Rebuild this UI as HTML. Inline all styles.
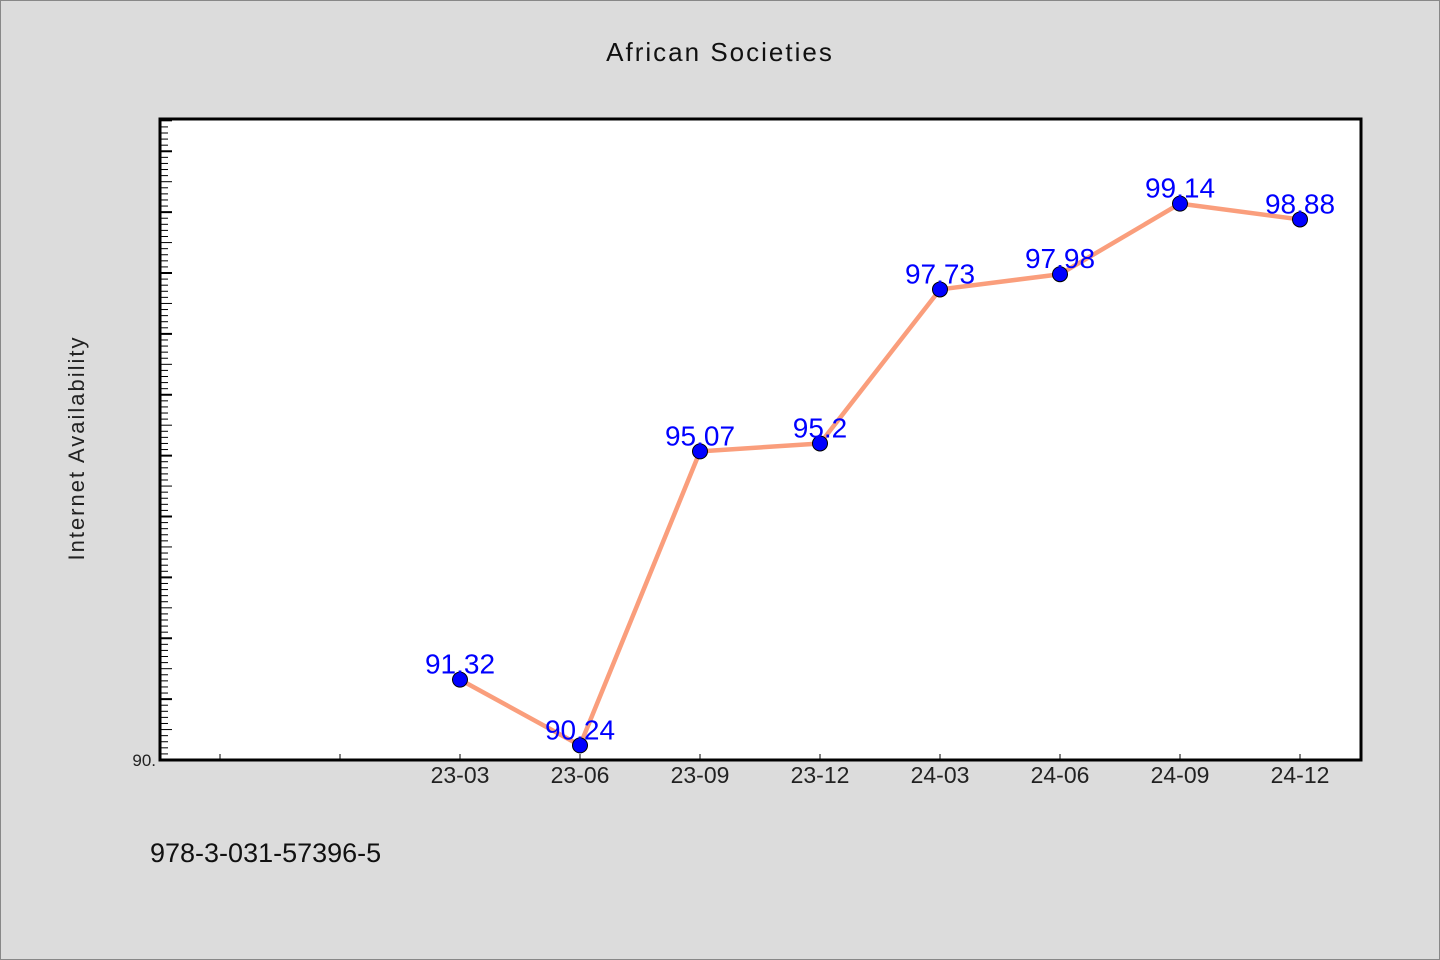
<!DOCTYPE html>
<html><head><meta charset="utf-8"><style>
body{margin:0;background:#dcdcdc;}
svg{display:block;font-family:"WenQuanYi Zen Hei","Liberation Sans",sans-serif;}
</style></head><body>
<svg id="chart" width="1440" height="960" viewBox="0 0 1440 960">
<rect x="0.5" y="0.5" width="1439" height="959" fill="#dcdcdc" stroke="#888"/>
<text x="720" y="61" text-anchor="middle" font-size="26" letter-spacing="2" fill="#111">African Societies</text>
<rect x="160" y="119" width="1201" height="641" fill="#fff"/>
<g id="axes"></g>
<g id="series"></g>
<rect x="160" y="119" width="1201" height="641" fill="none" stroke="#000" stroke-width="3"/>
<text transform="translate(84,448) rotate(-90)" text-anchor="middle" font-size="22" letter-spacing="2" fill="#222">Internet Availability</text>
<text x="150" y="862" font-size="27" fill="#111">978-3-031-57396-5</text>
</svg>
<script>
const categories = ["23-03","23-06","23-09","23-12","24-03","24-06","24-09","24-12"];
const values = [91.32, 90.24, 95.07, 95.2, 97.73, 97.98, 99.14, 98.88];
const valueLabels = ["91.32","90.24","95.07","95.2","97.73","97.98","99.14","98.88"];
const yMin = 90, yMax = 100.53;
const yTickLabels = ["90."];
const NS = "http://www.w3.org/2000/svg";
const X0 = 160, X1 = 1361, Y0 = 760, Y1 = 119;
function xPos(i){ return 460 + i*120; }
function yPos(v){ return Y0 - (v - yMin)/(yMax - yMin)*(Y0 - Y1); }
function mk(tag, attrs, parent){ const e=document.createElementNS(NS,tag); for(const k in attrs) e.setAttribute(k,attrs[k]); parent.appendChild(e); return e; }
const axes = document.getElementById("axes"), series = document.getElementById("series");
for(let k=0; k<=106; k++){
  const v = yMin + k*0.1; if(v > yMax) break;
  const y = yPos(v);
  const len = (k%5===0) ? 12 : 8;
  const t = mk("line",{x1:X0,x2:X0+len,y1:y,y2:y,stroke:"#000","stroke-width":(k%10===0)?2:1},axes);
  
  
}
const yl = mk("text",{x:156,y:Y0+6,"text-anchor":"end","font-size":"17",fill:"#222"},axes);
yl.textContent = yTickLabels[0];


for(let i=-2;i<categories.length;i++){
  const x = xPos(i);
  const t = mk("line",{x1:x,x2:x,y1:Y0,y2:Y0-6,stroke:"#000","stroke-width":1},axes);
  
  
  if(i>=0){
    const l = mk("text",{x:x,y:783,"text-anchor":"middle","font-size":"23",fill:"#222"},axes);
    l.textContent = categories[i];
    
    
  }
}
const pts = values.map((v,i)=>xPos(i)+","+yPos(v)).join(" ");
const pl = mk("polyline",{points:pts,fill:"none",stroke:"#FA9E7C","stroke-width":4.5,"stroke-linejoin":"round"},series);


values.forEach((v,i)=>{
  const c = mk("circle",{cx:xPos(i),cy:yPos(v),r:7.5,fill:"#0000ff",stroke:"#000","stroke-width":1},series);
  
  
});
values.forEach((v,i)=>{
  const t = mk("text",{x:xPos(i),y:yPos(v)-6,"text-anchor":"middle","font-size":"28",fill:"#0000ff"},series);
  t.textContent = valueLabels[i];
  
  
});
</script>
</body></html>
